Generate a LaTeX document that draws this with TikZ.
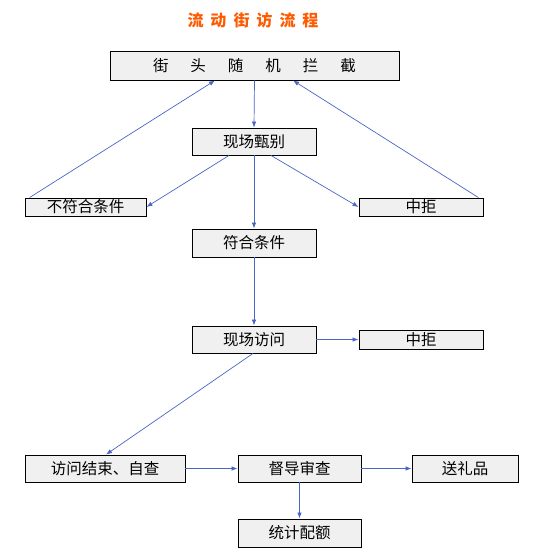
\documentclass[tikz,border=0pt]{standalone}
\usepackage{fontspec}
\newfontfamily\cjk{Noto Sans CJK SC}
\usetikzlibrary{arrows.meta}
\definecolor{boxfill}{HTML}{F0F0F0}
\definecolor{linkblue}{HTML}{4A66C4}
\definecolor{titleorange}{HTML}{FF5A00}
\tikzset{
  box/.style={draw=black, fill=boxfill, line width=0.9pt, inner sep=0pt, font=\cjk\fontsize{15.5}{15.5}\selectfont},
  link/.style={draw=linkblue, line width=0.7pt, -{Latex[length=6pt,width=4.5pt]}}
}
\begin{document}
\begin{tikzpicture}[x=1pt,y=-1pt]
\useasboundingbox (0,0) rectangle (533,560);
\fill[white] (0,0) rectangle (533,560);
\node[font=\cjk\bfseries\fontsize{16}{16}\selectfont, text=titleorange] (title) at (253,20) {流\hspace{7pt}动\hspace{7pt}街\hspace{7pt}访\hspace{7pt}流\hspace{7pt}程};
\node[box, minimum width=289pt, minimum height=29pt] (jietou) at (254.5,65.5) {街\hspace{22pt}头\hspace{22pt}随\hspace{22pt}机\hspace{22pt}拦\hspace{22pt}截};
\node[box, minimum width=124pt, minimum height=27pt] (zhenbie) at (254,141.5) {现场甄别};
\node[box, minimum width=121pt, minimum height=18pt] (bufuhe) at (85.5,207) {不符合条件};
\node[box, minimum width=124pt, minimum height=18pt] (zhongju1) at (421,207) {中拒};
\node[box, minimum width=124pt, minimum height=28pt] (fuhe) at (254,243) {符合条件};
\node[box, minimum width=124pt, minimum height=27pt] (fangwen) at (254,339.5) {现场访问};
\node[box, minimum width=124pt, minimum height=19pt] (zhongju2) at (421,339.5) {中拒};
\node[box, minimum width=160pt, minimum height=27pt] (jieshu) at (105,468.5) {访问结束、自查};
\node[box, minimum width=123pt, minimum height=27pt] (ducha) at (299.5,468.5) {督导审查};
\node[box, minimum width=106pt, minimum height=27pt] (songli) at (465,468.5) {送礼品};
\node[box, minimum width=123pt, minimum height=28pt] (tongji) at (299.5,533) {统计配额};
% connectors
\draw[link] (jietou.south) -- (zhenbie.north);
\draw[link] ([xshift=5pt]bufuhe.north west) -- ([xshift=-39.5pt]jietou.south);
\draw[link] ([xshift=-5pt]zhongju1.north east) -- ([xshift=38.5pt]jietou.south);
\draw[link] ([xshift=-25pt]zhenbie.south) -- (bufuhe.east);
\draw[link] (zhenbie.south) -- (fuhe.north);
\draw[link] ([xshift=17pt]zhenbie.south) -- (zhongju1.west);
\draw[link] (fuhe.south) -- (fangwen.north);
\draw[link] (fangwen.east) -- (zhongju2.west);
\draw[link] ([xshift=-1pt]fangwen.south) -- ([xshift=1pt]jieshu.north);
\draw[link] (jieshu.east) -- (ducha.west);
\draw[link] (ducha.east) -- (songli.west);
\draw[link] (ducha.south) -- (tongji.north);
\end{tikzpicture}
\end{document}
